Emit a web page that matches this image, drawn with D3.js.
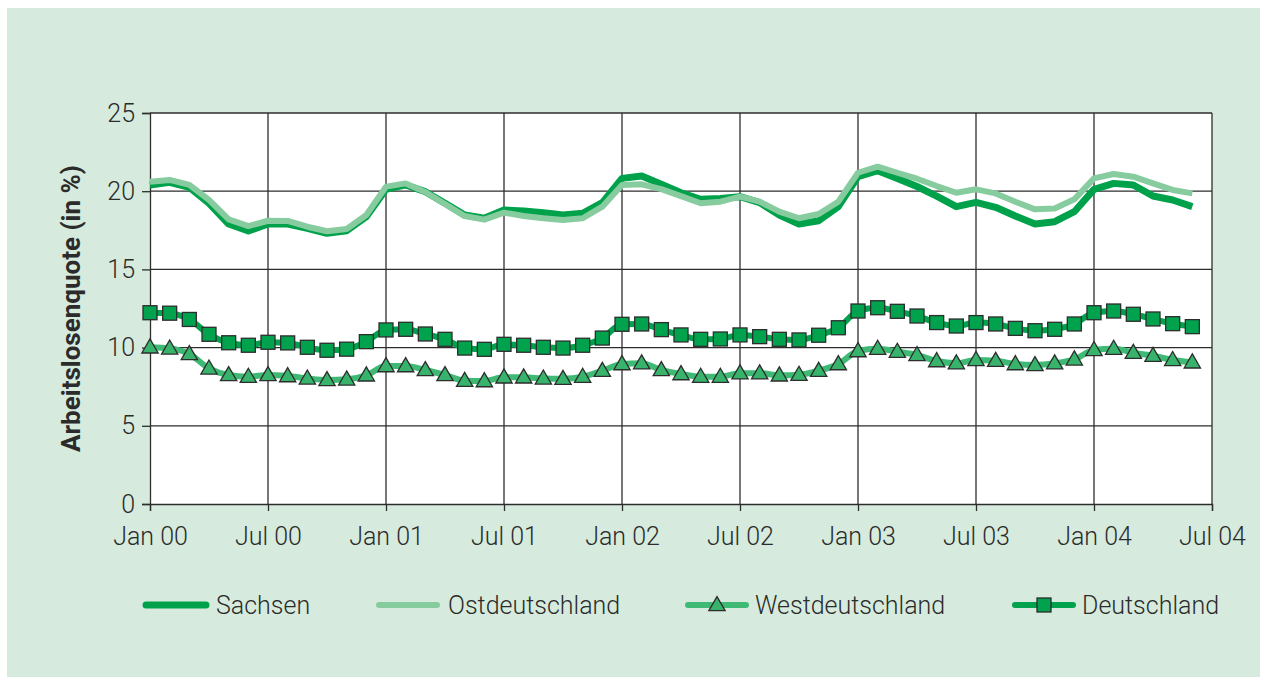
<!DOCTYPE html>
<html>
<head>
<meta charset="utf-8">
<script src="https://cdn.jsdelivr.net/npm/d3@7"></script>
<style>
  body { margin: 0; background: #fff; }
  svg text { font-family: Roboto, 'Liberation Sans', sans-serif; fill: #2b2b2b; }
</style>
</head>
<body>
<div id="chart"></div>
<script>
// monthly values Jan 2000 .. Jun 2004
var sachsen = [
  20.4, 20.57, 20.25, 19.23, 17.9, 17.46, 17.9, 17.9, 17.63, 17.31, 17.47, 18.37,
  20.12, 20.4, 19.97, 19.23, 18.48, 18.27, 18.8, 18.73, 18.63, 18.48, 18.59, 19.27,
  20.82, 20.97, 20.45, 19.9, 19.48, 19.54, 19.65, 19.27, 18.48, 17.9, 18.11, 19.01,
  20.93, 21.31, 20.82, 20.3, 19.69, 19.01, 19.29, 18.97, 18.41, 17.9, 18.05, 18.69,
  20.12, 20.5, 20.4, 19.69, 19.44, 19.01
]
var ostdeutschland = [
  20.61, 20.72, 20.4, 19.44, 18.2, 17.77, 18.11, 18.1, 17.73, 17.44, 17.58, 18.48,
  20.29, 20.5, 19.95, 19.18, 18.41, 18.18, 18.63, 18.41, 18.27, 18.16, 18.27, 19.01,
  20.4, 20.44, 20.13, 19.69, 19.23, 19.33, 19.65, 19.33, 18.69, 18.27, 18.54, 19.33,
  21.18, 21.57, 21.18, 20.8, 20.33, 19.9, 20.12, 19.86, 19.33, 18.84, 18.9, 19.48,
  20.82, 21.1, 20.93, 20.5, 20.08, 19.86
]
var westdeutschland = [
  10.02, 9.95, 9.59, 8.67, 8.25, 8.14, 8.25, 8.18, 8.03, 7.93, 7.97, 8.23,
  8.82, 8.82, 8.57, 8.25, 7.88, 7.86, 8.1, 8.1, 8.03, 8.01, 8.14, 8.52,
  8.95, 9.0, 8.57, 8.31, 8.14, 8.14, 8.36, 8.36, 8.23, 8.27, 8.52, 8.95,
  9.78, 9.93, 9.74, 9.53, 9.14, 9.0, 9.21, 9.16, 8.95, 8.89, 9.0, 9.25,
  9.85, 9.93, 9.67, 9.48, 9.21, 9.06
]
var deutschland = [
  12.23, 12.2, 11.8, 10.85, 10.31, 10.15, 10.34, 10.3, 10.02, 9.83, 9.9, 10.38,
  11.13, 11.17, 10.87, 10.53, 9.97, 9.89, 10.21, 10.15, 10.02, 9.97, 10.15, 10.61,
  11.49, 11.51, 11.15, 10.81, 10.53, 10.55, 10.81, 10.7, 10.53, 10.49, 10.79, 11.27,
  12.34, 12.55, 12.32, 12.02, 11.6, 11.38, 11.6, 11.51, 11.23, 11.08, 11.17, 11.51,
  12.23, 12.34, 12.13, 11.83, 11.53, 11.34
]
var xTickLabels = ['Jan 00', 'Jul 00', 'Jan 01', 'Jul 01', 'Jan 02', 'Jul 02', 'Jan 03', 'Jul 03', 'Jan 04', 'Jul 04']
var yTicks = [0, 5, 10, 15, 20, 25]
var seriesNames = ['Sachsen', 'Ostdeutschland', 'Westdeutschland', 'Deutschland']

var W = 1266, H = 683
var margin = {left: 150, right: 54, top: 113, bottom: 179}
var width = W - margin.left - margin.right
var height = H - margin.top - margin.bottom

var cSachsen = '#00a14b', cOst = '#87cc9f', cWest = '#3fba74', cD = '#00a24d'
var cMarkWest = '#38b36c', cStroke = '#2d2d2d'
var fs = 25

var svg = d3.select('#chart').append('svg').attr('width', W).attr('height', H)

// light green panel
svg.append('rect').attr('x', 7).attr('y', 8).attr('width', W - 13).attr('height', H - 14).attr('fill', '#d6ebdd')

var g = svg.append('g').attr('transform', 'translate(' + margin.left + ',' + margin.top + ')')

var x = d3.scaleLinear().domain([0, 54]).range([0, width])
var y = d3.scaleLinear().domain([0, 25]).range([height, 0])

g.append('rect').attr('width', width).attr('height', height).attr('fill', '#fff')

// grid
g.append('g').selectAll('line').data(yTicks.slice(1))
  .join('line')
  .attr('x1', 0).attr('x2', width)
  .attr('y1', d => y(d)).attr('y2', d => y(d))
  .attr('stroke', cStroke).attr('stroke-width', 1.3)

g.append('g').selectAll('line').data(xTickLabels.slice(1))
  .join('line')
  .attr('x1', (d, i) => x((i + 1) * 6)).attr('x2', (d, i) => x((i + 1) * 6))
  .attr('y1', 0).attr('y2', height)
  .attr('stroke', cStroke).attr('stroke-width', 1.3)

// axes
var yAxis = g.append('g').call(d3.axisLeft(y).tickValues(yTicks).tickSize(8).tickPadding(7).tickFormat(d3.format('d')))
var xAxis = g.append('g').attr('transform', 'translate(0,' + height + ')')
  .call(d3.axisBottom(x).tickValues(d3.range(0, 55, 6)).tickSize(7).tickPadding(16)
    .tickFormat((d, i) => xTickLabels[i]))

;[yAxis, xAxis].forEach(function(a){
  a.select('.domain').attr('stroke', cStroke).attr('stroke-width', 1.3)
  a.selectAll('.tick line').attr('stroke', cStroke).attr('stroke-width', 1.3)
  a.selectAll('text').attr('font-size', fs).attr('font-weight', 300).attr('fill', '#2b2b2b')
    .style('font-family', 'Roboto, sans-serif')
})

g.append('text')
  .attr('transform', 'translate(-70,' + (height / 2) + ') rotate(-90)')
  .attr('text-anchor', 'middle')
  .attr('font-size', 26).attr('font-weight', 700)
  .text('Arbeitslosenquote (in %)')

// lines
var line = d3.line().x((d, i) => x(i)).y(d => y(d))
var smooth = d3.line().x((d, i) => x(i)).y(d => y(d)).curve(d3.curveMonotoneX)

g.append('path').attr('d', line(sachsen)).attr('fill', 'none')
  .attr('stroke', cSachsen).attr('stroke-width', 7).attr('stroke-linejoin', 'round')
g.append('path').attr('d', line(ostdeutschland)).attr('fill', 'none')
  .attr('stroke', cOst).attr('stroke-width', 6).attr('stroke-linejoin', 'round')

g.append('path').attr('d', smooth(westdeutschland)).attr('fill', 'none')
  .attr('stroke', cWest).attr('stroke-width', 6)
g.append('path').attr('d', smooth(deutschland)).attr('fill', 'none')
  .attr('stroke', cD).attr('stroke-width', 6)

var tri = d3.symbol().type(d3.symbolTriangle).size(115)

g.append('g').selectAll('path').data(westdeutschland)
  .join('path')
  .attr('d', tri)
  .attr('transform', (d, i) => 'translate(' + x(i) + ',' + (y(d) + 1) + ')')
  .attr('fill', cMarkWest).attr('stroke', cStroke).attr('stroke-width', 1.3)

g.append('g').selectAll('rect').data(deutschland)
  .join('rect')
  .attr('x', (d, i) => x(i) - 7).attr('y', d => y(d) - 7)
  .attr('width', 14).attr('height', 14)
  .attr('fill', cD).attr('stroke', cStroke).attr('stroke-width', 1.3)

// legend
var legY = 605
var legX = [146, 379, 688, 1015]
var leg = svg.append('g').selectAll('g').data(seriesNames).join('g')
  .attr('transform', (d, i) => 'translate(' + legX[i] + ',' + legY + ')')

leg.append('line').attr('x1', 0).attr('x2', (d, i) => i == 0 ? 60 : 58)
  .attr('stroke', (d, i) => [cSachsen, cOst, cWest, cD][i])
  .attr('stroke-width', (d, i) => i == 0 ? 7 : 6).attr('stroke-linecap', 'round')

leg.filter((d, i) => i == 2).append('path')
  .attr('d', tri).attr('transform', 'translate(29,1)')
  .attr('fill', cMarkWest).attr('stroke', cStroke).attr('stroke-width', 1.3)
leg.filter((d, i) => i == 3).append('rect')
  .attr('x', 29 - 7).attr('y', -7).attr('width', 14).attr('height', 14)
  .attr('fill', cD).attr('stroke', cStroke).attr('stroke-width', 1.3)

leg.append('text')
  .attr('x', (d, i) => [70, 69, 67, 67][i]).attr('dy', '0.36em')
  .attr('font-size', fs).attr('font-weight', 300)
  .text(d => d)
</script>
</body>
</html>
